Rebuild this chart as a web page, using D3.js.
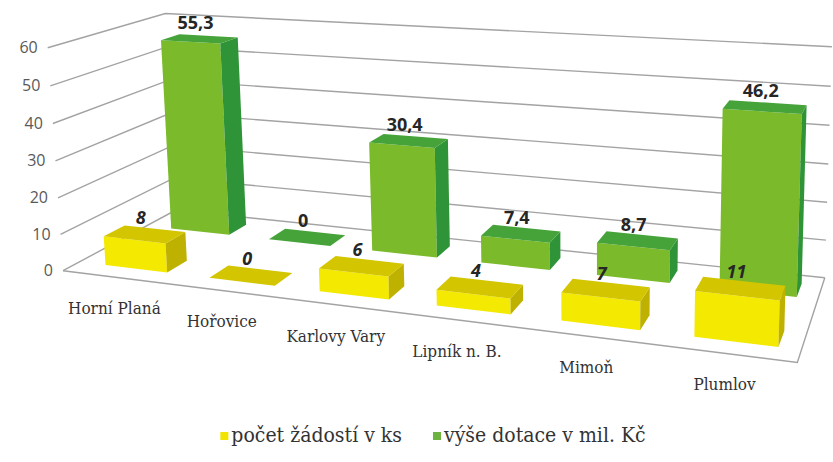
<!DOCTYPE html>
<html>
<head>
<meta charset="utf-8">
<script src="https://cdn.jsdelivr.net/npm/d3@7"></script>
<style>
  body { margin: 0; background: #fff; }
  svg { display: block; }
</style>
</head>
<body>
<div id="chart"></div>
<script>
// data
const categories = ['Horní Planá', 'Hořovice', 'Karlovy Vary', 'Lipník n. B.', 'Mimoň', 'Plumlov'];
const requests = [8, 0, 6, 4, 7, 11];
const subsidy = [55.3, 0, 30.4, 7.4, 8.7, 46.2];
const valueTicks = [0, 10, 20, 30, 40, 50, 60];
const seriesNames = ['počet žádostí v ks', 'výše dotace v mil. Kč'];

const width = 833, height = 462;
const serif = "'DejaVu Serif Condensed', 'DejaVu Serif', serif";
const sans = "'Open Sans', sans-serif";

const colors = {
    'počet žádostí v ks': { front: '#f4e900', side: '#bfb100', top: '#d3c600', legend: '#f0e400' },
    'výše dotace v mil. Kč': { front: '#7bba2b', side: '#2f9437', top: '#46a33a', legend: '#6db33f' },
};

// world box: x 0..6 (categories), h 0..6 (values), z 0..1 (depth)
const xScale = d3.scaleBand().domain(categories).range([0, 6])
    .paddingInner(0.4).paddingOuter(0.21).align(0.62);
const hScale = d3.scaleLinear().domain([0, 60]).range([0, 6]);
const zScale = d3.scaleBand().domain(seriesNames).range([0.13, 0.89]).paddingInner(0.7);

// camera fitted on the corners of the chart frame (screen px)
const frame = [
    [[0, 0, 0], [63, 271]],
    [[6, 0, 0], [797, 363]],
    [[0, 0, 1], [176, 210]],
    [[6, 0, 1], [825, 277]],
    [[0, 6, 1], [165, 14]],
    [[6, 6, 1], [832, 47]],
    [[0, 6, 0], [48, 47]],
];

function fitCamera(pairs) {
    const A = [], b = [];
    pairs.forEach(([[X, Y, Z], [u, v]]) => {
        u /= 100; v /= 100;
        A.push([X, Y, Z, 1, 0, 0, 0, 0, -u * X, -u * Y, -u * Z]); b.push(u);
        A.push([0, 0, 0, 0, X, Y, Z, 1, -v * X, -v * Y, -v * Z]); b.push(v);
    });
    const n = 11;
    const M = d3.range(n).map(i => d3.range(n + 1).map(j => (
        j === n ? d3.sum(A, (r, k) => r[i] * b[k]) : d3.sum(A, r => r[i] * r[j])
    )));
    for (let c = 0; c < n; c++) {
        let p = c;
        for (let r = c + 1; r < n; r++) if (Math.abs(M[r][c]) > Math.abs(M[p][c])) p = r;
        [M[c], M[p]] = [M[p], M[c]];
        for (let r = 0; r < n; r++) {
            if (r === c) continue;
            const f = M[r][c] / M[c][c];
            for (let k = c; k <= n; k++) M[r][k] -= f * M[c][k];
        }
    }
    const p = M.map((r, i) => r[n] / r[i]);
    return ([X, Y, Z]) => {
        const w = p[8] * X + p[9] * Y + p[10] * Z + 1;
        return [
            100 * (p[0] * X + p[1] * Y + p[2] * Z + p[3]) / w,
            100 * (p[4] * X + p[5] * Y + p[6] * Z + p[7]) / w,
        ];
    };
}

const project = fitCamera(frame);
const P = (x, h, z) => project([x, h, z]);
const line = d3.line();

const svg = d3.select('#chart').append('svg')
    .attr('width', width)
    .attr('height', height);

svg.append('rect').attr('width', width).attr('height', height).attr('fill', '#fff');

// walls
const grid = svg.append('g')
    .attr('fill', 'none')
    .attr('stroke', '#a3a3a3')
    .attr('stroke-width', 1.4);

grid.selectAll('.gl')
    .data(valueTicks)
    .join('path')
    .attr('class', 'gl')
    .attr('d', v => line([P(0, hScale(v), 0), P(0, hScale(v), 1), P(6, hScale(v), 1)]));

// floor
grid.append('path')
    .attr('d', line([P(0, 0, 0), P(6, 0, 0), P(6, 0, 1)]));

// value axis labels
svg.append('g')
    .selectAll('text')
    .data(valueTicks)
    .join('text')
    .style('font-family', sans)
    .attr('x', v => P(0, hScale(v), 0)[0] - 10)
    .attr('y', v => P(0, hScale(v), 0)[1])
    .attr('dy', '0.35em')
    .attr('text-anchor', 'end')
    .attr('font-size', 16)
    .attr('fill', '#595959')
    .text(v => v);

// bars
function box(cat, series, value) {
    const x0 = xScale(cat), x1 = x0 + xScale.bandwidth();
    const z0 = zScale(series), z1 = z0 + zScale.bandwidth();
    const h = hScale(value);
    const c = colors[series];
    const top = { fill: c.top, pts: [P(x0, h, z0), P(x1, h, z0), P(x1, h, z1), P(x0, h, z1)] };
    if (value === 0) return [top];
    return [
        { fill: c.front, pts: [P(x0, 0, z0), P(x1, 0, z0), P(x1, h, z0), P(x0, h, z0)] },
        { fill: c.side, pts: [P(x1, 0, z0), P(x1, 0, z1), P(x1, h, z1), P(x1, h, z0)] },
        top,
    ];
}

const rows = [
    { series: seriesNames[1], values: subsidy, italic: false },
    { series: seriesNames[0], values: requests, italic: true },
];

rows.forEach(row => {
    const faces = row.values.flatMap((v, i) => box(categories[i], row.series, v));
    svg.append('g')
        .selectAll('path')
        .data(faces)
        .join('path')
        .attr('d', d => line(d.pts) + 'Z')
        .attr('fill', d => d.fill);
});

// data labels
rows.forEach(row => {
    const anchor = (v, i) => P(xScale(categories[i]) + xScale.bandwidth() / 2, hScale(v),
        zScale(row.series) + zScale.bandwidth() / 2);
    svg.append('g')
        .selectAll('text')
        .data(row.values)
        .join('text')
        .style('font-family', sans)
        .attr('x', (v, i) => anchor(v, i)[0] - 4)
        .attr('y', (v, i) => anchor(v, i)[1] - 10)
        .attr('text-anchor', 'middle')
        .attr('font-size', 18)
        .attr('font-weight', 700)
        .attr('font-style', row.italic ? 'italic' : 'normal')
        .attr('fill', '#262626')
        .text(v => String(v).replace('.', ','));
});

// category labels
svg.append('g')
    .selectAll('text')
    .data(categories)
    .join('text')
    .style('font-family', serif)
    .attr('x', d => P(xScale(d) + xScale.bandwidth() / 2, 0, 0)[0] - 6)
    .attr('y', d => P(xScale(d) + xScale.bandwidth() / 2, 0, 0)[1] + 36)
    .attr('text-anchor', 'middle')
    .attr('font-size', 17)
    .attr('fill', '#333')
    .text(d => d);

// legend, centred under the chart
const legend = svg.append('g');
const item = legend.selectAll('g')
    .data(seriesNames)
    .join('g');

item.append('rect')
    .attr('y', -10)
    .attr('width', 8)
    .attr('height', 8)
    .attr('fill', d => colors[d].legend);

item.append('text')
    .style('font-family', serif)
    .attr('x', 11)
    .attr('font-size', 21)
    .attr('fill', '#333')
    .text(d => d);

let offset = 0;
item.each(function () {
    const g = d3.select(this);
    g.attr('data-x', offset);
    offset += 11 + g.select('text').node().getComputedTextLength() + 31;
});
const total = offset - 31;
item.attr('transform', function () {
    return `translate(${433 - total / 2 + +this.getAttribute('data-x')},442)`;
});
</script>
</body>
</html>
